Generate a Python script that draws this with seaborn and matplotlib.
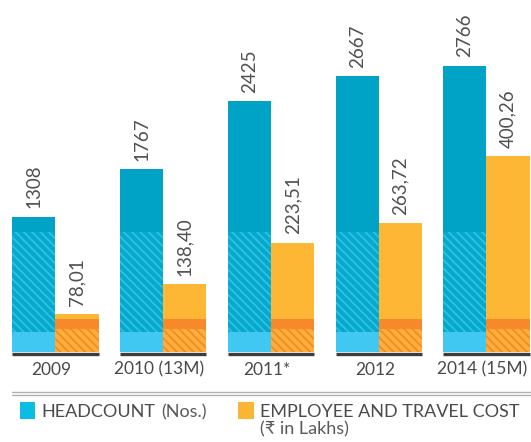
import matplotlib
matplotlib.use("Agg")
import matplotlib.pyplot as plt
import numpy as np
import seaborn as sns
from matplotlib.lines import Line2D
from matplotlib.patches import Rectangle
from matplotlib.transforms import ScaledTranslation

# données
years = ["2009", "2010 (13M)", "2011*", "2012", "2014 (15M)"]
headcount = [1308, 1767, 2425, 2667, 2766]
cost = [78.01, 138.40, 223.51, 263.72, 400.26]
cost_labels = ["78,01", "138,40", "223,51", "263,72", "400,26"]

BLUE = "#00a3c6"
BLUE_HATCH_BG = "#07a8cb"
BLUE_HATCH = "#2cc2e4"
BLUE_LIGHT = "#40c8f2"
ORANGE = "#fdb735"
ORANGE_DARK = "#f7892b"
ORANGE_HATCH_BG = "#fdb03a"
TEXT = "#4a4a4a"

W, H = 531, 442
AX_BOTTOM, AX_H = 90, 352
HC_MAX, COST_MAX = 3400, 720

sns.set_theme(style="white")
plt.rcParams["font.family"] = ["Lato", "DejaVu Sans"]
plt.rcParams["hatch.linewidth"] = 1.3

fig = plt.figure(figsize=(W / 100, H / 100), dpi=100)
ax = fig.add_axes([0, AX_BOTTOM / H, 1, AX_H / H])
ax2 = ax.twinx()

pos = np.arange(len(years))
x_hc = pos - 0.2
x_cost = pos + 0.2

sns.barplot(x=x_hc, y=headcount, native_scale=True, orient="x", width=0.4,
            color=BLUE, saturation=1, linewidth=0, errorbar=None, ax=ax)
sns.barplot(x=x_cost, y=cost, native_scale=True, orient="x", width=0.4,
            color=ORANGE, saturation=1, linewidth=0, errorbar=None, ax=ax2)


def px2u(px, vmax):
    return px * vmax / AX_H


# bandes décoratives en bas des barres (hauteur fixe en pixels)
for i in range(len(years)):
    hc = headcount[i]
    ax.bar(x_hc[i], min(px2u(20, HC_MAX), hc), width=0.4, color=BLUE_LIGHT, linewidth=0)
    top = min(px2u(120, HC_MAX), hc)
    ax.bar(x_hc[i], top - px2u(20, HC_MAX), bottom=px2u(20, HC_MAX), width=0.4,
           color=BLUE_HATCH_BG, edgecolor=BLUE_HATCH, hatch="\\\\\\\\", linewidth=0)

    c = cost[i]
    ax2.bar(x_cost[i], min(px2u(23, COST_MAX), c), width=0.4,
            color=ORANGE_HATCH_BG, edgecolor=ORANGE_DARK, hatch="\\\\\\\\", linewidth=0)
    top = min(px2u(33, COST_MAX), c)
    ax2.bar(x_cost[i], top - px2u(23, COST_MAX), bottom=px2u(23, COST_MAX), width=0.4,
            color=ORANGE_DARK, linewidth=0)

# valeurs au-dessus des barres
for i in range(len(years)):
    ax.annotate(str(headcount[i]), (x_hc[i], headcount[i]), xytext=(0, 6),
                textcoords="offset points", rotation=90, ha="center", va="bottom",
                fontsize=13.5, color="#505050")
    ax2.annotate(cost_labels[i], (x_cost[i], cost[i]), xytext=(0, 6),
                 textcoords="offset points", rotation=90, ha="center", va="bottom",
                 fontsize=13.5, color="#505050")

ax.set_ylim(0, HC_MAX)
ax2.set_ylim(0, COST_MAX)
ax.set_xlim(-0.515, 4.413)
ax2.set_xlim(-0.515, 4.413)

for a in (ax, ax2):
    for s in a.spines.values():
        s.set_visible(False)
    a.set_yticks([])
    a.set_ylabel("")
    a.grid(False)
ax.patch.set_visible(False)

ax.set_xticks(pos)
ax.set_xticklabels(years)
ax.tick_params(axis="x", length=0, pad=7, labelsize=12.5, labelcolor=TEXT)
shift = ScaledTranslation(-4 / 100, 0, fig.dpi_scale_trans)
for lab in ax.get_xticklabels():
    lab.set_transform(lab.get_transform() + shift)
ax2.tick_params(axis="x", length=0, labelbottom=False)

# trait sombre sous chaque groupe
down = ScaledTranslation(0, -1.6 / 100, fig.dpi_scale_trans)
for i in range(len(years)):
    ax.plot([x_hc[i] - 0.2, x_cost[i] + 0.2], [0, 0], color="#3c3c3c", lw=2.4,
            solid_capstyle="butt", transform=ax.get_xaxis_transform() + down,
            clip_on=False)

# double ligne de séparation
for ypx in (392, 395):
    fig.add_artist(Line2D([12 / W, 1], [(H - ypx) / H] * 2, color="#b0b0b0", lw=1))

# légende
fig.add_artist(Rectangle((20 / W, (H - 419) / H), 15 / W, 17 / H, color="#0bbde2", lw=0))
fig.add_artist(Rectangle((238 / W, (H - 419) / H), 16 / W, 17 / H, color="#fbb533", lw=0))
fig.text(41 / W, (H - 417) / H, "HEADCOUNT", fontsize=13, color=TEXT, va="baseline")
fig.text(161 / W, (H - 417) / H, "(Nos.)", fontsize=13, color="#5a5a5a", va="baseline")
fig.text(260 / W, (H - 417) / H, "EMPLOYEE AND TRAVEL COST", fontsize=13, color=TEXT,
         va="baseline")
fig.text(260 / W, (H - 434) / H, "(₹ in Lakhs)", fontsize=13, color="#5a5a5a",
         va="baseline")

fig.savefig("out.png", dpi=100)
